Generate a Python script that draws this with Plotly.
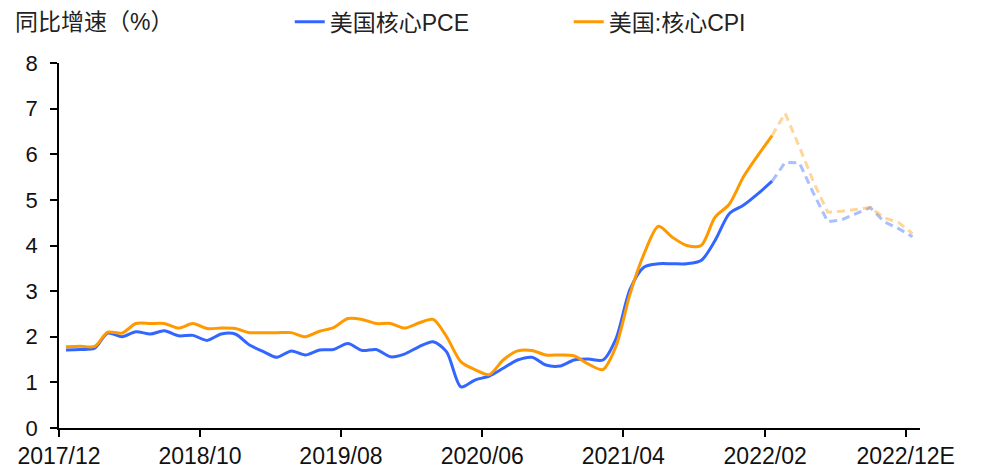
import plotly.graph_objects as go
import pandas as pd

# Monthly observations 2017/12 .. 2022/02 (actual), forecast 2022/02 .. 2022/12E
months_actual = pd.date_range("2017-12-01", "2022-02-01", freq="MS") + pd.Timedelta(days=15)
months_fcst = pd.date_range("2022-02-01", "2022-12-01", freq="MS") + pd.Timedelta(days=15)

pce_actual = [1.71, 1.72, 1.75, 2.08, 2.00, 2.11, 2.06, 2.13, 2.02, 2.03,
              1.92, 2.06, 2.06, 1.82, 1.67, 1.55, 1.69, 1.60, 1.71, 1.72,
              1.85, 1.70, 1.72, 1.56, 1.62, 1.78, 1.89, 1.67, 0.90, 1.05,
              1.14, 1.31, 1.49, 1.55, 1.38, 1.36, 1.49, 1.51, 1.49, 1.95,
              3.05, 3.53, 3.60, 3.60, 3.60, 3.67, 4.11, 4.70, 4.88, 5.13,
              5.41]
cpi_actual = [1.78, 1.79, 1.79, 2.10, 2.08, 2.29, 2.29, 2.29, 2.19, 2.29,
              2.18, 2.19, 2.18, 2.09, 2.09, 2.09, 2.09, 2.00, 2.12, 2.20,
              2.40, 2.38, 2.29, 2.29, 2.19, 2.30, 2.38, 2.00, 1.45, 1.28,
              1.17, 1.49, 1.69, 1.70, 1.60, 1.60, 1.58, 1.40, 1.28, 1.78,
              2.95, 3.82, 4.42, 4.18, 4.00, 4.00, 4.62, 4.91, 5.50, 5.97,
              6.41]
pce_fcst = [5.41, 5.82, 5.81, 5.15, 4.52, 4.56, 4.70, 4.83, 4.52, 4.37, 4.19]
cpi_fcst = [6.41, 6.90, 6.16, 5.40, 4.73, 4.75, 4.79, 4.83, 4.61, 4.50, 4.26]

tick_vals = ["2017-12-01", "2018-10-01", "2019-08-01", "2020-06-01",
             "2021-04-01", "2022-02-01", "2022-12-01"]
tick_text = ["2017/12", "2018/10", "2019/08", "2020/06", "2021/04", "2022/02", "2022/12E"]

BLUE = "#3366FF"
ORANGE = "#FF9900"
FONT = "Liberation Sans, Arial, Noto Sans CJK SC"

fig = go.Figure()
fig.add_trace(go.Scatter(x=months_fcst, y=pce_fcst, mode="lines", showlegend=False,
                         line=dict(color="rgba(51,102,255,0.42)", width=3, dash="8px,5px")))
fig.add_trace(go.Scatter(x=months_fcst, y=cpi_fcst, mode="lines", showlegend=False,
                         line=dict(color="rgba(255,153,0,0.40)", width=3, dash="8px,5px")))
fig.add_trace(go.Scatter(x=months_actual, y=pce_actual, mode="lines", name="美国核心PCE",
                         line=dict(color=BLUE, width=3, shape="spline", smoothing=0.8)))
fig.add_trace(go.Scatter(x=months_actual, y=cpi_actual, mode="lines", name="美国:核心CPI",
                         line=dict(color=ORANGE, width=3, shape="spline", smoothing=0.8)))

fig.update_layout(
    width=974, height=463,
    margin=dict(l=51, r=62, t=55, b=43, autoexpand=False),
    paper_bgcolor="white", plot_bgcolor="white",
    font=dict(family=FONT, color="#000000"),
    showlegend=True,
    legend=dict(orientation="h", x=0.268, xanchor="left", y=1.113, yanchor="middle",
                font=dict(size=23, family=FONT, color="#222222"),
                entrywidth=234, entrywidthmode="pixels",
                bgcolor="rgba(0,0,0,0)", itemwidth=30),
    annotations=[dict(text="同比增速（%）", xref="paper", yref="paper",
                      x=-0.053, y=1.113, xanchor="left", yanchor="middle", showarrow=False,
                      font=dict(size=23, family=FONT, color="#222222"))],
)
fig.update_xaxes(type="date", range=["2017-12-01", "2023-01-01"],
                 tickvals=tick_vals, ticktext=tick_text, automargin=False,
                 showline=True, linecolor="#000000", linewidth=1.5,
                 ticks="outside", ticklen=7, tickcolor="#000000", tickwidth=1.5,
                 showgrid=False, zeroline=False,
                 tickfont=dict(size=23, family=FONT, color="#111111"))
fig.update_yaxes(range=[0, 8], dtick=1, tick0=0, automargin=False,
                 showline=True, linecolor="#000000", linewidth=1.5,
                 ticks="outside", ticklen=7, tickcolor="#000000", tickwidth=1.5,
                 showgrid=False, zeroline=False, ticklabelstandoff=8,
                 tickfont=dict(size=22, family=FONT, color="#111111"))

fig.write_html("out.html")
